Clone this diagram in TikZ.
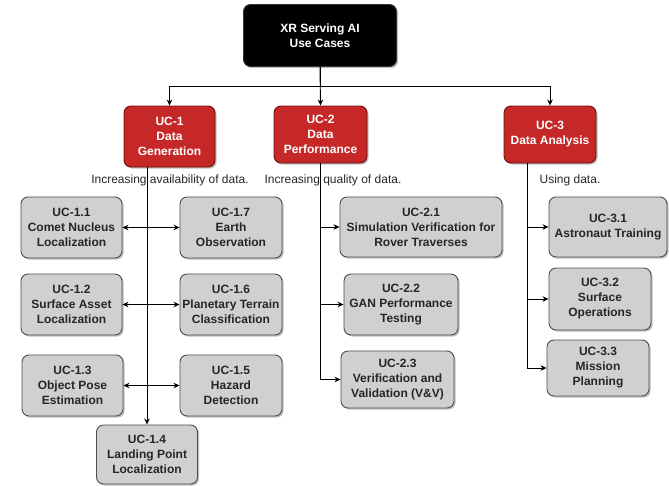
\documentclass[tikz,border=0pt]{standalone}
\usepackage{fontspec}
\setmainfont{Liberation Sans}
\usetikzlibrary{arrows.meta,shadows}
\definecolor{ucred}{HTML}{C62828}
\definecolor{ucredline}{HTML}{6B1010}
\definecolor{ucgray}{HTML}{D0D0D0}
\definecolor{ucgrayline}{HTML}{4D4D4D}
\definecolor{uctext}{HTML}{262626}
\tikzset{
  box/.style={rounded corners=7pt, align=center, inner sep=2pt,
    font=\fontsize{12}{15}\selectfont\bfseries, line width=0.9pt,
    drop shadow={shadow xshift=1.6pt, shadow yshift=-1.6pt, fill=black, opacity=0.25}},
  rootbox/.style={box, fill=black, draw=black!80, text=white},
  groupbox/.style={box, fill=ucred, draw=ucredline, text=white},
  leafbox/.style={box, fill=ucgray, draw=ucgrayline, text=uctext},
  note/.style={font=\fontsize{12}{15}\selectfont, text=uctext, inner sep=0pt},
  arr/.style={draw=black, line width=0.9pt, -{Stealth[length=6pt,width=5.5pt]}},
  dblarr/.style={draw=black, line width=0.9pt, {Stealth[length=6pt,width=5.5pt]}-{Stealth[length=6pt,width=5.5pt]}},
}
\begin{document}
\begin{tikzpicture}[x=1pt, y=-1pt]
\useasboundingbox (0,0) rectangle (669,485);

% root and the three groups
\node[rootbox, minimum width=153pt, minimum height=62pt] (root) at (320,35.5) {XR Serving AI\\Use Cases};
\node[groupbox, minimum width=91pt, minimum height=61pt] (uc1) at (169.5,136.5) {UC-1\\Data\\Generation};
\node[groupbox, minimum width=93pt, minimum height=57pt] (uc2) at (320.5,134.5) {UC-2\\Data\\Performance};
\node[groupbox, minimum width=92pt, minimum height=57pt] (uc3) at (550,134.5) {UC-3\\Data Analysis};

% captions under the groups
\node[note] (n1) at (170,180) {Increasing availability of data.};
\node[note] (n2) at (333,180) {Increasing quality of data.};
\node[note] (n3) at (570,180) {Using data.};

% UC-1 leaves
\node[leafbox, minimum width=101pt, minimum height=61pt] (u11) at (71.5,227.5) {UC-1.1\\Comet Nucleus\\Localization};
\node[leafbox, minimum width=102pt, minimum height=61pt] (u17) at (231,227.5) {UC-1.7\\Earth\\Observation};
\node[leafbox, minimum width=101pt, minimum height=61pt] (u12) at (71.5,304.5) {UC-1.2\\Surface Asset\\Localization};
\node[leafbox, minimum width=102pt, minimum height=61pt] (u16) at (231,304.5) {UC-1.6\\Planetary Terrain\\Classification};
\node[leafbox, minimum width=101pt, minimum height=61pt] (u13) at (72.5,385.5) {UC-1.3\\Object Pose\\Estimation};
\node[leafbox, minimum width=102pt, minimum height=61pt] (u15) at (231,385.5) {UC-1.5\\Hazard\\Detection};
\node[leafbox, minimum width=101pt, minimum height=59pt] (u14) at (147,454.5) {UC-1.4\\Landing Point\\Localization};

% UC-2 leaves
\node[leafbox, minimum width=162pt, minimum height=60pt] (u21) at (421,227) {UC-2.1\\Simulation Verification for\\Rover Traverses};
\node[leafbox, minimum width=114pt, minimum height=61pt] (u22) at (401,304.5) {UC-2.2\\GAN Performance\\Testing};
\node[leafbox, minimum width=113pt, minimum height=57pt] (u23) at (397.5,379.5) {UC-2.3\\Verification and\\Validation (V\&V)};

% UC-3 leaves
\node[leafbox, minimum width=118pt, minimum height=60pt] (u31) at (608,227) {UC-3.1\\Astronaut Training};
\node[leafbox, minimum width=102pt, minimum height=62pt] (u32) at (600,299) {UC-3.2\\Surface\\Operations};
\node[leafbox, minimum width=102pt, minimum height=56pt] (u33) at (598,368) {UC-3.3\\Mission\\Planning};

% root to groups
\coordinate (split) at (320,86);
\draw[arr] (root.south) -- (uc2.north);
\draw[arr] (root.south) -- (split) -| (uc1.north);
\draw[arr] (split) -| (uc3.north);

% UC-1 spine and its branches
\coordinate (c1) at ([xshift=-22.5pt]uc1.south);
\draw[arr] (c1) -- (c1 |- u14.north);
\draw[dblarr] (u11.east) -- (u17.west);
\draw[dblarr] (u12.east) -- (u16.west);
\draw[dblarr] (u13.east) -- (u15.west);

% UC-2 branches
\draw[arr] (uc2.south) |- (u21.west);
\draw[arr] (uc2.south) |- (u22.west);
\draw[arr] (uc2.south) |- (u23.west);

% UC-3 branches
\coordinate (c3) at ([xshift=-23pt]uc3.south);
\draw[arr] (c3) |- (u31.west);
\draw[arr] (c3) |- (u32.west);
\draw[arr] (c3) |- (u33.west);
\end{tikzpicture}
\end{document}
